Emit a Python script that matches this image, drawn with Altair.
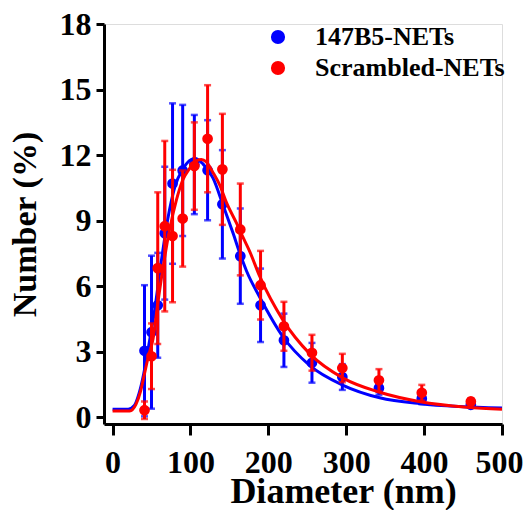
import altair as alt
import pandas as pd

# ---- data ----
series_names = ["147B5-NETs", "Scrambled-NETs"]
series_colors = ["#0000FF", "#FF0000"]

diameter = [41, 50, 58, 67, 77, 90, 105, 122, 141, 164, 190, 220, 256, 295, 342, 397, 460]

blue_mean = [3.05, 3.9, 5.13, 8.43, 10.7, 11.3, 11.57, 11.31, 9.75, 7.38, 5.13, 3.53, 2.5, 1.85, 1.34, 0.86, 0.58]
blue_sd = [3.0, 3.5, 2.4, 3.04, 3.67, 3.0, 2.27, 2.29, 2.48, 2.18, 1.68, 1.22, 0.91, 0.59, 0.3, 0.25, 0.1]

red_mean = [0.33, 2.8, 6.83, 8.75, 8.3, 9.1, 11.5, 12.75, 11.35, 8.6, 6.05, 4.17, 2.96, 2.26, 1.7, 1.13, 0.73]
red_sd = [0.4, 1.5, 3.47, 3.9, 3.03, 2.2, 2.0, 2.45, 2.54, 2.1, 1.57, 1.12, 0.82, 0.65, 0.51, 0.36, 0.15]

blue_fit_x = [0, 20, 28, 34, 40, 46, 54, 62, 71, 80, 90, 101, 106, 116, 129, 142, 155, 164, 172, 189, 219, 253, 296, 343, 395, 446, 500]
blue_fit_y = [0.38, 0.38, 0.55, 1.1, 2.0, 3.2, 4.9, 7.0, 9.1, 10.55, 11.35, 11.8, 11.85, 11.6, 10.95, 9.7, 8.4, 7.45, 6.7, 5.5, 3.68, 2.38, 1.47, 0.9, 0.63, 0.5, 0.43]

red_fit_x = [0, 22, 30, 36, 41, 46, 52, 58, 65, 73, 82, 90, 99, 108, 114, 120, 129, 138, 146, 159, 168, 176, 189, 219, 253, 296, 343, 395, 455, 500]
red_fit_y = [0.3, 0.3, 0.6, 1.2, 2.0, 2.8, 3.6, 5.2, 6.9, 8.55, 9.95, 10.85, 11.4, 11.75, 11.8, 11.7, 11.2, 10.6, 9.85, 8.9, 8.2, 7.6, 6.45, 4.44, 2.92, 1.8, 1.15, 0.72, 0.47, 0.38]

x_ticks = [0, 100, 200, 300, 400, 500]
y_ticks = [0, 3, 6, 9, 12, 15, 18]

# ---- tables ----
pts = pd.concat([
    pd.DataFrame({"d": diameter, "v": blue_mean, "sd": blue_sd, "series": series_names[0]}),
    pd.DataFrame({"d": diameter, "v": red_mean, "sd": red_sd, "series": series_names[1]}),
])
pts["lo"] = pts["v"] - pts["sd"]
pts["hi"] = pts["v"] + pts["sd"]

fit = pd.concat([
    pd.DataFrame({"d": blue_fit_x, "v": blue_fit_y, "series": series_names[0]}),
    pd.DataFrame({"d": red_fit_x, "v": red_fit_y, "series": series_names[1]}),
])

xs = alt.Scale(domain=[-11, 500], nice=False, zero=False)
ys = alt.Scale(domain=[-0.3, 18], nice=False, zero=False)
cs = alt.Scale(domain=series_names, range=series_colors)

x_axis = alt.Axis(
    values=x_ticks, format="d", title="Diameter (nm)", grid=False,
    domainWidth=3, domainColor="black", tickWidth=3, tickColor="black", tickSize=11,
    labelFont="Liberation Serif", labelFontWeight="bold", labelFontSize=32, labelColor="black",
    labelPadding=12, labelFlush=False, labelOverlap=False,
    labelOffset={"condition": {"test": "datum.value == 500", "value": -3}, "value": 0},
    titleFont="Liberation Serif", titleFontWeight="bold", titleFontSize=36, titleColor="black",
    titleX=239, titleY=78, titleBaseline="alphabetic", titleAlign="center", titleAnchor="middle",
)
y_axis = alt.Axis(
    values=y_ticks, format="d", title="Number (%)", grid=False,
    domainWidth=3, domainColor="black", tickWidth=3, tickColor="black", tickSize=8,
    labelFont="Liberation Serif", labelFontWeight="bold", labelFontSize=32, labelColor="black",
    labelPadding=5, labelFlush=False, labelOverlap=False,
    titleFont="Liberation Serif", titleFontWeight="bold", titleFontSize=34, titleColor="black",
    titleX=-69, titleY=200, titleAngle=270, titleBaseline="alphabetic", titleAlign="center",
)

legend = alt.Legend(
    title=None, orient="none", legendX=161, legendY=0, padding=0,
    symbolType="circle", symbolSize=200, symbolStrokeWidth=0,
    labelFont="Liberation Serif", labelFontWeight="bold", labelFontSize=26, labelColor="black",
    labelOffset=24, rowPadding=5, labelLimit=400,
)


def layers_for(i):
    name = series_names[i]
    col = alt.value(series_colors[i])
    p = pts[pts["series"] == name]
    f = fit[fit["series"] == name]
    line = alt.Chart(f).mark_line(strokeWidth=3, interpolate="monotone").encode(
        x=alt.X("d:Q", scale=xs, axis=x_axis), y=alt.Y("v:Q", scale=ys, axis=y_axis), color=col
    )
    rule = alt.Chart(p).mark_rule(strokeWidth=3).encode(
        x=alt.X("d:Q", scale=xs), y=alt.Y("lo:Q", scale=ys), y2="hi:Q", color=col
    )
    cap_lo = alt.Chart(p).mark_tick(orient="horizontal", size=7, thickness=2.5).encode(
        x=alt.X("d:Q", scale=xs), y=alt.Y("lo:Q", scale=ys), color=col
    )
    cap_hi = alt.Chart(p).mark_tick(orient="horizontal", size=7, thickness=2.5).encode(
        x=alt.X("d:Q", scale=xs), y=alt.Y("hi:Q", scale=ys), color=col
    )
    point = alt.Chart(p).mark_point(filled=True, shape="circle", size=115, opacity=1).encode(
        x=alt.X("d:Q", scale=xs), y=alt.Y("v:Q", scale=ys),
        color=alt.Color("series:N", scale=cs, legend=legend),
    )
    return [line, rule, cap_lo, cap_hi, point]


chart = alt.layer(*(layers_for(0) + layers_for(1))).properties(
    width=398, height=400,
    autosize=alt.AutoSizeParams(type="none"),
    padding={"left": 96, "top": 16, "right": 21, "bottom": 86},
).configure_view(stroke=None).configure(background="white")

chart.save("out.html", embed_options={"renderer": "svg", "actions": False})
